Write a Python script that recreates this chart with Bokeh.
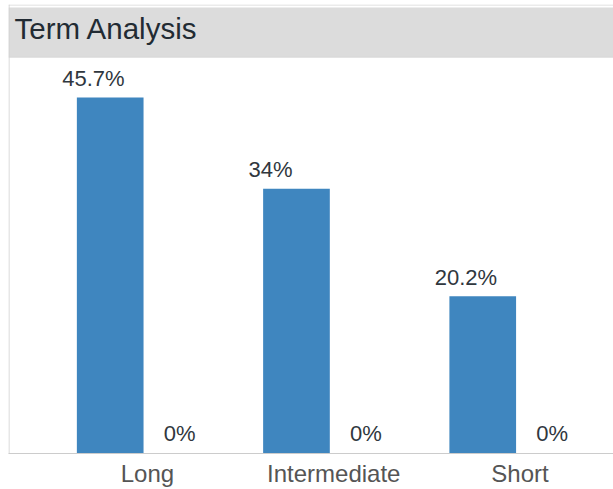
from bokeh.plotting import figure
from bokeh.models import ColumnDataSource, Range1d, FixedTicker, BoxAnnotation, Label
from bokeh.transform import dodge
from bokeh.core.properties import value
from bokeh.embed import file_html
from bokeh.resources import INLINE

# Term buckets and their share of holdings (%)
categories = ["Long", "Intermediate", "Short"]
term_share = [45.7, 34.0, 20.2]
comparison_share = [0.0, 0.0, 0.0]

W, H = 613, 489
FONT = "Liberation Sans"
BAR_COLOR = "#3f86bf"

positions = list(range(len(categories)))
source = ColumnDataSource(dict(
    pos=positions,
    cat=categories,
    term=term_share,
    other=comparison_share,
    term_label=[f"{v:g}%" for v in term_share],
    other_label=[f"{v:g}%" for v in comparison_share],
))

p = figure(
    width=W, height=H,
    x_range=Range1d(-0.746, 2.502),
    y_range=Range1d(0, 57.64),
    y_axis_location=None,
    toolbar_location=None,
    output_backend="svg",
    min_border_left=8, min_border_right=0,
    min_border_top=4, min_border_bottom=36,
)
p.outline_line_color = None
p.background_fill_color = "white"
p.border_fill_color = "white"
p.xgrid.visible = False
p.ygrid.visible = False

# category axis along the bottom edge
ax = p.xaxis[0]
ax.ticker = FixedTicker(ticks=positions)
ax.major_label_overrides = {i: c for i, c in zip(positions, categories)}
ax.major_tick_line_color = None
ax.minor_tick_line_color = None
ax.major_tick_out = 0
ax.major_tick_in = 0
ax.axis_line_color = "#cccccc"
ax.major_label_standoff = 6
ax.major_label_text_font = FONT
ax.major_label_text_font_size = "24px"
ax.major_label_text_color = "#555555"

# header band, its rules, and the left frame rule
def canvas_box(left, right, top, bottom, color):
    return BoxAnnotation(left=left, right=right, top=top, bottom=bottom,
                         left_units="canvas", right_units="canvas",
                         top_units="canvas", bottom_units="canvas",
                         fill_color=color, fill_alpha=1, line_color=None)

p.add_layout(canvas_box(8, W, 7, 56, "#dcdcdc"))
p.add_layout(canvas_box(8, W, 56, 57, "#c8c8c8"))
p.add_layout(canvas_box(8, W, 4, 5, "#d8d8d8"))
p.add_layout(canvas_box(8, 9, 4, 454, "#cfcfcf"))
p.add_layout(Label(x=14, y=28, x_units="canvas", y_units="canvas",
                   text="Term Analysis", text_font=FONT, text_font_size="29.5px",
                   text_color="#222b33", text_baseline="alphabetic"))

# bars
p.vbar(x=dodge("pos", -0.2, range=p.x_range), top="term", bottom=0, width=0.358,
       source=source, fill_color=BAR_COLOR, line_color=None)
p.vbar(x=dodge("pos", 0.2, range=p.x_range), top="other", bottom=0, width=0.358,
       source=source, fill_color=BAR_COLOR, line_color=None)

# value labels
p.text(x=dodge("pos", -0.2, range=p.x_range), y="term", text="term_label", source=source,
       x_offset=-48, y_offset=-19, text_align="left", text_baseline="alphabetic",
       text_font=value(FONT), text_font_size="22px", text_color="#30373e")
p.text(x=dodge("pos", 0.2, range=p.x_range), y="other", text="other_label", source=source,
       x_offset=-21, y_offset=-20, text_align="left", text_baseline="alphabetic",
       text_font=value(FONT), text_font_size="22px", text_color="#30373e")

open("out.html", "w").write(file_html(p, INLINE))
